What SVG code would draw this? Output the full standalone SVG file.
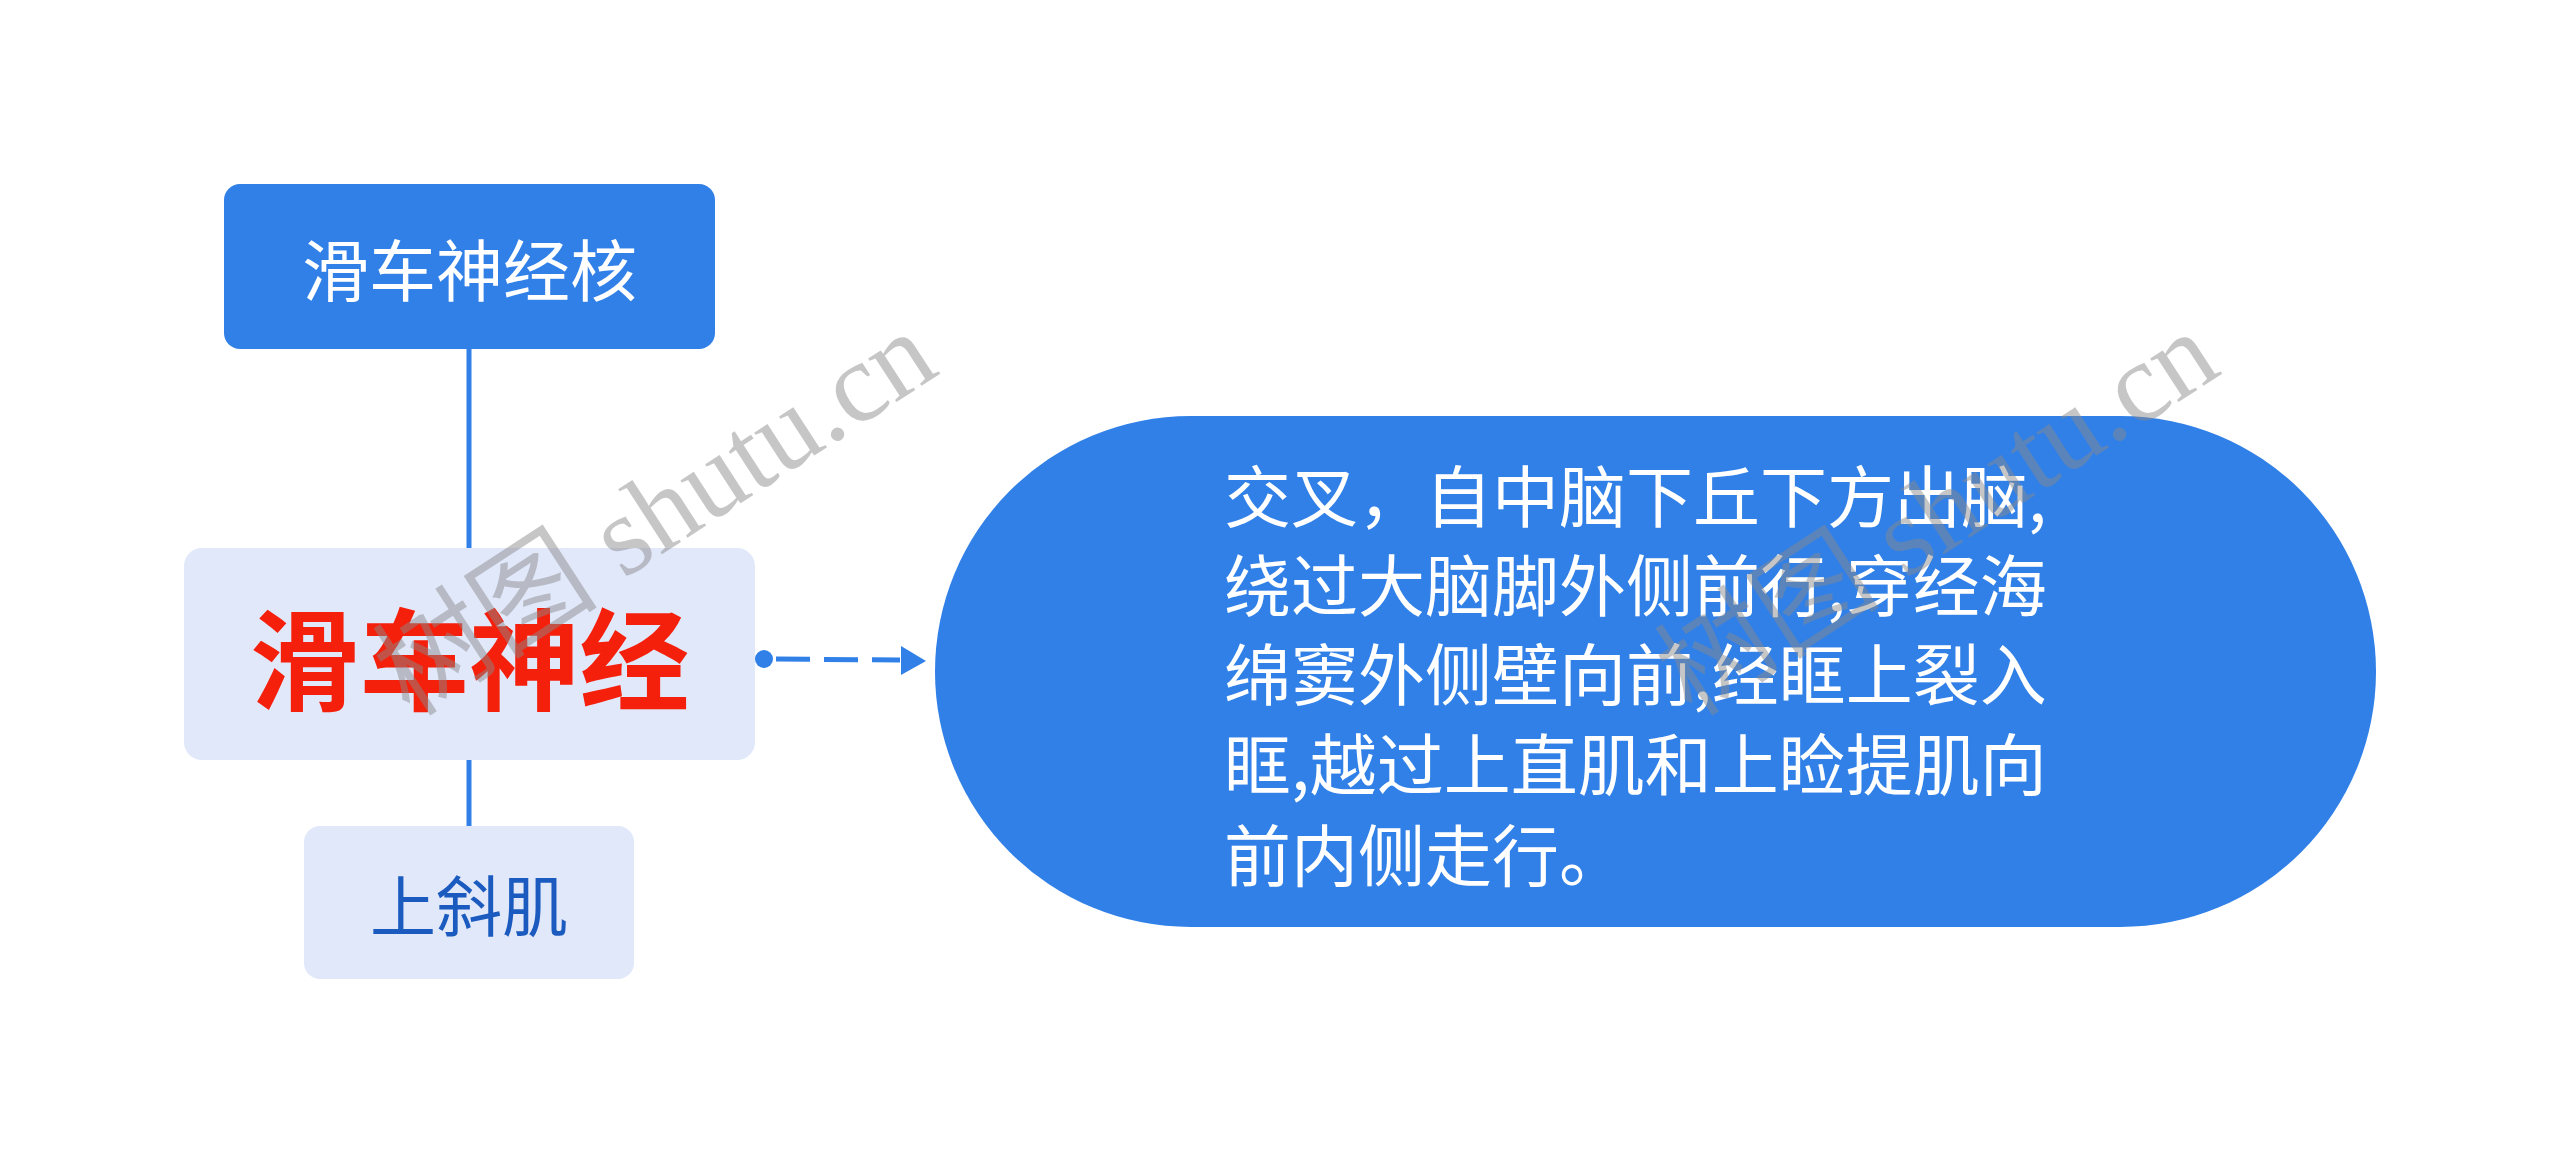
<svg xmlns="http://www.w3.org/2000/svg" width="2560" height="1164" viewBox="0 0 2560 1164">
<defs>
<style>
.cjk{font-family:"Noto Sans CJK SC","Noto Sans",sans-serif;dominant-baseline:central}
.edge{stroke:#3080E8;stroke-width:5;fill:none}
.wm{font-family:"Liberation Serif","Noto Sans CJK SC",serif;font-size:113px;fill:#8a8a8a;opacity:0.48}
</style>
</defs>
<rect width="2560" height="1164" fill="#ffffff"/>
<g id="connectors">
<line class="edge" x1="469" y1="349" x2="469" y2="548"/>
<line class="edge" x1="469" y1="760" x2="469" y2="826"/>
<line class="edge" x1="764" y1="659" x2="900" y2="660" stroke-width="6" stroke-dasharray="0 12 34 14 34 14 34"/>
<circle cx="764" cy="659" r="9" fill="#3080E8"/>
<polygon points="901,646 926,661 901,675" fill="#3080E8"/>
</g>
<g id="node-top">
<rect x="224" y="184" width="491" height="165" rx="16" fill="#3080E8"/>
<text class="cjk" x="469.5" y="266" font-size="67" fill="#ffffff" text-anchor="middle">滑车神经核</text>
</g>
<g id="node-center">
<rect x="184" y="548" width="571" height="212" rx="18" fill="#E1E8FA"/>
<text class="cjk" x="469.5" y="654" font-size="110" font-weight="700" fill="#F5200C" text-anchor="middle">滑车神经</text>
</g>
<g id="node-bottom">
<rect x="304" y="826" width="330" height="153" rx="16" fill="#E1E8FA"/>
<text class="cjk" x="469" y="902" font-size="66" fill="#1B5BBF" text-anchor="middle">上斜肌</text>
</g>
<g id="node-detail">
<rect x="935" y="416" width="1441" height="511" rx="255.5" fill="#3080E8"/>
<text class="cjk" font-size="67" fill="#ffffff">
<tspan x="1224" y="492">交叉，自中脑下丘下方出脑,</tspan>
<tspan x="1224" y="581">绕过大脑脚外侧前行,穿经海</tspan>
<tspan x="1224" y="670">绵窦外侧壁向前,经眶上裂入</tspan>
<tspan x="1224" y="760">眶,越过上直肌和上睑提肌向</tspan>
<tspan x="1224" y="851">前内侧走行。</tspan>
</text>
</g>
<g id="watermark">
<text class="wm" transform="translate(410,718) rotate(-33)">树图 shutu.cn</text>
<text class="wm" transform="translate(1692,718) rotate(-33)">树图 shutu.cn</text>
</g>
</svg>
